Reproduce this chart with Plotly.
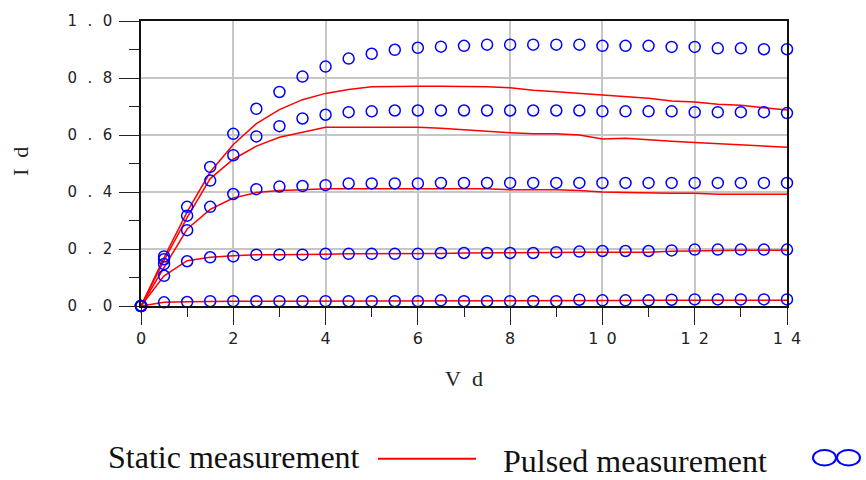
import plotly.graph_objects as go

vd = [0, 0.5, 1, 1.5, 2, 2.5, 3, 3.5, 4, 4.5, 5, 5.5, 6, 6.5, 7, 7.5, 8, 8.5, 9, 9.5,
      10, 10.5, 11, 11.5, 12, 12.5, 13, 13.5, 14]

# Pulsed measurement (circles)
pulsed_1 = [0, 0.174, 0.348, 0.488, 0.604, 0.692, 0.751, 0.805, 0.840, 0.868, 0.885, 0.899, 0.906, 0.910, 0.913,
            0.917, 0.917, 0.917, 0.917, 0.917, 0.913, 0.913, 0.913, 0.909, 0.909, 0.904, 0.904, 0.901, 0.901]
pulsed_2 = [0, 0.164, 0.317, 0.440, 0.529, 0.595, 0.631, 0.658, 0.671, 0.680, 0.683, 0.686, 0.686, 0.686, 0.686,
            0.686, 0.686, 0.686, 0.686, 0.686, 0.683, 0.683, 0.683, 0.683, 0.680, 0.680, 0.680, 0.680, 0.677]
pulsed_3 = [0, 0.147, 0.266, 0.348, 0.393, 0.410, 0.419, 0.421, 0.424, 0.430, 0.430, 0.430, 0.430, 0.432, 0.432,
            0.432, 0.432, 0.432, 0.432, 0.432, 0.432, 0.432, 0.432, 0.432, 0.432, 0.432, 0.432, 0.432, 0.432]
pulsed_4 = [0, 0.106, 0.157, 0.171, 0.174, 0.180, 0.180, 0.180, 0.183, 0.183, 0.183, 0.183, 0.183, 0.186, 0.186,
            0.186, 0.186, 0.186, 0.189, 0.191, 0.193, 0.193, 0.193, 0.195, 0.198, 0.198, 0.198, 0.198, 0.198]
pulsed_5 = [0, 0.013, 0.014, 0.017, 0.017, 0.017, 0.017, 0.017, 0.017, 0.017, 0.017, 0.017, 0.017, 0.020, 0.017,
            0.017, 0.017, 0.017, 0.017, 0.022, 0.020, 0.020, 0.020, 0.022, 0.023, 0.023, 0.023, 0.023, 0.023]

# Static measurement (lines)
static_1 = [0, 0.170, 0.330, 0.470, 0.567, 0.640, 0.689, 0.724, 0.746, 0.760, 0.769, 0.771, 0.771, 0.771, 0.771,
            0.769, 0.766, 0.757, 0.752, 0.746, 0.741, 0.734, 0.729, 0.719, 0.716, 0.708, 0.704, 0.696, 0.688]
static_2 = [0, 0.160, 0.310, 0.447, 0.515, 0.561, 0.592, 0.610, 0.627, 0.627, 0.627, 0.627, 0.627, 0.624, 0.618,
            0.612, 0.608, 0.604, 0.604, 0.600, 0.586, 0.589, 0.583, 0.578, 0.574, 0.570, 0.567, 0.563, 0.557]
static_3 = [0, 0.137, 0.270, 0.339, 0.379, 0.398, 0.405, 0.408, 0.411, 0.411, 0.411, 0.411, 0.411, 0.411, 0.411,
            0.411, 0.408, 0.408, 0.408, 0.405, 0.400, 0.398, 0.396, 0.396, 0.396, 0.392, 0.392, 0.392, 0.392]
static_4 = [0, 0.106, 0.159, 0.171, 0.176, 0.180, 0.180, 0.180, 0.182, 0.183, 0.183, 0.183, 0.183, 0.184, 0.186,
            0.186, 0.186, 0.187, 0.188, 0.189, 0.189, 0.189, 0.189, 0.192, 0.194, 0.195, 0.196, 0.196, 0.196]
static_5 = [0, 0.013, 0.015, 0.017, 0.017, 0.017, 0.017, 0.017, 0.017, 0.017, 0.017, 0.017, 0.017, 0.018, 0.017,
            0.017, 0.017, 0.017, 0.017, 0.017, 0.017, 0.019, 0.020, 0.020, 0.020, 0.020, 0.020, 0.020, 0.020]

SP = "\u2002"
SPY = "\u2002\u2009"
x_tickvals = [0, 2, 4, 6, 8, 10, 12, 14]
x_ticktext = ["0", "2", "4", "6", "8", "1" + SP + "0", "1" + SP + "2", "1" + SP + "4"]
y_tickvals = [0, 0.2, 0.4, 0.6, 0.8, 1.0]
y_ticktext = ["0" + SPY + "." + SPY + "0", "0" + SPY + "." + SPY + "2", "0" + SPY + "." + SPY + "4",
              "0" + SPY + "." + SPY + "6", "0" + SPY + "." + SPY + "8", "1" + SPY + "." + SPY + "0"]

W, H = 866, 480
L, R, T, B = 141, 787, 13, 306


def px(p):
    return (p - L) / (R - L)


def py(p):
    return (B - p) / (B - T)


fig = go.Figure()
for s in [static_1, static_2, static_3, static_4, static_5]:
    fig.add_trace(go.Scatter(x=vd, y=s, mode="lines", line=dict(color="#ff0000", width=1.5),
                             showlegend=False, cliponaxis=False))
for p in [pulsed_1, pulsed_2, pulsed_3, pulsed_4, pulsed_5]:
    fig.add_trace(go.Scatter(x=vd, y=p, mode="markers",
                             marker=dict(symbol="circle-open", size=11, color="#0000ff", line=dict(width=1.5)),
                             showlegend=False, cliponaxis=False))

fig.update_xaxes(range=[0, 14], tickvals=x_tickvals, ticktext=x_ticktext,
                 tickfont=dict(family="DejaVu Sans", size=16, color="#222222"),
                 ticks="outside", ticklen=17, tickcolor="#222222", tickwidth=1.3,
                 minor=dict(dtick=1, tick0=0, ticks="outside", ticklen=9, tickcolor="#222222", showgrid=False),
                 showline=True, linecolor="#111111", linewidth=1.5, mirror=True,
                 showgrid=True, gridcolor="#c6c6c6", gridwidth=1.5, zeroline=False)
fig.update_yaxes(range=[0, 1.0], tickvals=y_tickvals, ticktext=y_ticktext,
                 tickfont=dict(family="DejaVu Sans", size=15, color="#222222"), ticklabelstandoff=4,
                 ticks="outside", ticklen=20, tickcolor="#222222", tickwidth=1.3,
                 minor=dict(dtick=0.1, tick0=0, ticks="outside", ticklen=10, tickcolor="#222222", showgrid=False),
                 showline=True, linecolor="#111111", linewidth=1.5, mirror=True,
                 showgrid=True, gridcolor="#c6c6c6", gridwidth=1.5, zeroline=False)

serif = "'Liberation Serif', 'Times New Roman', Times, serif"
annots = [
    dict(text="I" + SP + "d", x=px(20), y=py(158), textangle=-90, font=dict(family=serif, size=22, color="#222222")),
    dict(text="V" + SP + "d", x=px(464), y=py(381), font=dict(family=serif, size=22, color="#222222")),
    dict(text="Static measurement", x=px(106), y=py(461), xanchor="left",
         font=dict(family=serif, size=32, color="#111111")),
    dict(text="Pulsed measurement", x=px(501), y=py(465), xanchor="left",
         font=dict(family=serif, size=32, color="#111111")),
]
for a in annots:
    a.update(xref="paper", yref="paper", showarrow=False)
    a.setdefault("xanchor", "center")
    a["yanchor"] = "middle"
fig.update_layout(annotations=annots)

fig.add_shape(type="line", xref="paper", yref="paper", x0=px(378), x1=px(476), y0=py(463), y1=py(463),
              line=dict(color="#ff0000", width=2))
for cx in [824.5, 848.5]:
    fig.add_shape(type="circle", xref="paper", yref="paper", x0=px(cx - 11.5), x1=px(cx + 11.5),
                  y0=py(470), y1=py(454), line=dict(color="#0000ff", width=2))

fig.update_layout(width=W, height=H, margin=dict(l=L, r=W - R, t=T, b=H - B),
                  plot_bgcolor="white", paper_bgcolor="white", showlegend=False)

fig.write_html("out.html")
